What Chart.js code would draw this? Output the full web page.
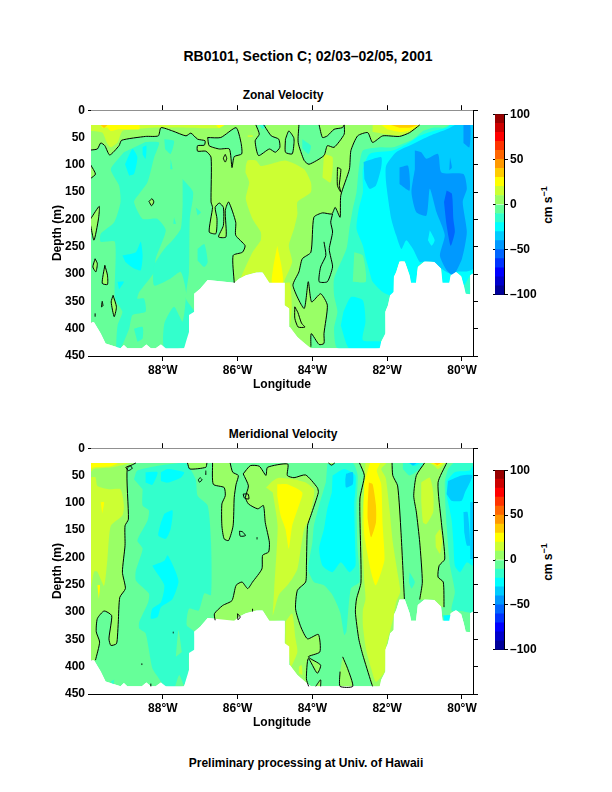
<!DOCTYPE HTML>
<html>
<head>
<meta charset="utf-8">
<script src="https://cdn.jsdelivr.net/npm/chart.js"></script>
<style>
    * { margin: 0; padding: 0; box-sizing: border-box; }
    body { background: #fff; width: 612px; height: 792px; position: relative; overflow: hidden; }
    canvas { position: absolute; }
    .label { position: absolute; font: bold 12px "Liberation Sans", sans-serif; color: #000; white-space: nowrap; transform: translateX(-50%); }
    .unit { position: absolute; font: bold 12px "Liberation Sans", sans-serif; color: #000; white-space: nowrap; transform: translate(-50%, -50%) rotate(-90deg); }
    .unit sup { font-size: 9px; line-height: 0; }
</style>
</head>
<body>
<div class="label" style="left:308px;top:48px;font-size:14px;">RB0101, Section C; 02/03–02/05, 2001</div>
<div class="label" style="left:283px;top:88px;">Zonal Velocity</div>
<div class="label" style="left:283px;top:427px;">Meridional Velocity</div>
<div class="label" style="left:306px;top:756px;">Preliminary processing at Univ. of Hawaii</div>
<div class="unit" style="left:548px;top:205px;">cm s<sup>−1</sup></div>
<div class="unit" style="left:548px;top:562px;">cm s<sup>−1</sup></div>
<canvas id="zonal" width="440" height="296" style="left:48px;top:100px"></canvas>
<canvas id="zonalBar" width="70" height="199" style="left:485px;top:105px"></canvas>
<canvas id="meridional" width="440" height="296" style="left:48px;top:438px"></canvas>
<canvas id="meridionalBar" width="70" height="198" style="left:485px;top:461px"></canvas>
<script>
    // axes
    const lonTicks = [88, 86, 84, 82, 80];
    const depthTicks = [0, 50, 100, 150, 200, 250, 300, 350, 400, 450];
    const barTicks = [-100, -50, 0, 50, 100];
    const barEdges = [-100, -90, -80, -70, -60, -50, -40, -30, -20, -10, 0, 10, 20, 30, 40, 50, 60, 70, 80, 90, 100];

    const section = [89.93,27, 79.7,27, 79.7,299, 79.78,302, 79.78,337, 79.9,336, 79.95,321, 80.02,304, 80.16,296, 80.3,302, 80.34,316, 80.52,316, 80.56,290, 80.74,278, 81.0,277, 81.18,287, 81.23,316, 81.36,316, 81.4,302, 81.53,277, 81.67,277, 81.76,296, 81.82,305, 81.83,333, 81.92,339, 81.98,357, 82.05,369, 82.05,409, 82.16,424, 82.2,436, 84.04,436, 84.2,427, 84.4,415, 84.6,397, 84.62,363, 84.74,357, 84.74,316, 85.15,316, 85.33,297, 85.5,297, 85.78,302, 85.95,308, 86.09,316, 86.8,311, 87.0,327, 87.16,336, 87.16,369, 87.3,375, 87.3,406, 87.38,424, 87.43,436, 87.92,436, 88.05,429, 88.19,436, 88.32,436, 88.44,429, 88.56,436, 88.95,436, 89.04,430, 89.13,436, 89.53,427, 89.66,409, 89.84,388, 89.93,388];
    // no data above the first bin and below the bottom
    const noDataTop = [89.95,0, 79.6,0, 79.6,27, 89.95,27];
    const noDataBottom = [...section.slice(4), 89.95,388, 89.95,450, 79.6,450, 79.6,299];

    // zonal velocity
    const zonalZeroRight = [81.13,27, 81.4,41, 81.67,48, 82.12,47, 82.39,59, 82.52,41, 82.79,47, 82.97,74, 83.01,108, 83.24,156, 83.26,196, 83.39,178, 83.48,190, 83.73,188, 83.96,196, 84.04,260, 84.27,272, 84.36,296, 84.52,321, 84.22,363, 84.11,314, 84.02,351, 83.78,336, 83.6,357, 83.69,409, 83.69,427, 83.82,429, 84.03,409, 84.04,433];
    const zonalZeroBottom = [84.04,436, 84.2,427, 84.4,415, 84.6,397, 84.62,363, 84.74,357, 84.74,316, 85.15,316, 85.33,297, 85.5,297, 85.78,302, 85.95,308, 86.09,316];
    const zonalZeroLeft = [86.09,316, 86.12,266, 85.87,260, 85.8,248, 86.05,229, 86.05,205, 86.24,168, 86.33,184, 86.31,232, 86.51,232, 86.38,211, 86.38,178, 86.49,170, 86.6,178, 86.55,199, 86.58,226, 86.76,223, 86.67,178, 86.71,168, 86.71,86, 86.85,75, 87.07,75, 87.07,65, 86.89,64, 86.87,56, 87.07,53, 87.25,42, 87.38,47, 87.74,38, 88.05,32, 88.12,47, 88.46,48, 89.1,55, 89.17,65, 89.42,82, 89.55,65, 89.66,60, 89.75,71, 89.93,73];
    const zonalPocketA = [86.8,50, 86.45,50, 86.04,32, 85.91,59, 85.89,80, 86.09,85, 86.15,105, 86.22,71, 86.49,71, 86.76,65];
    const zonalPocketB = [85.51,27, 85.42,44, 85.53,56, 85.44,83, 85.15,71, 84.99,77, 84.87,68, 84.9,53, 85.1,47, 85.27,30, 85.3,27];
    const zonalPocketC = [84.72,53, 84.63,38, 84.5,50, 84.49,59, 84.54,80, 84.72,77];
    const zonalPocketD = [84.36,27, 84.38,59, 84.22,92, 84.09,99, 83.69,83, 83.6,65, 83.42,68, 83.15,44, 83.15,27];
    const zonalIslandE = [83.82,27, 83.73,50, 83.6,47, 83.42,35, 83.2,32, 83.15,27];
    const zonalEdgeA = [89.93,100, 89.8,117, 89.93,125];
    const zonalEdgeB = [89.93,199, 89.7,176, 89.72,199, 89.84,238, 89.93,211];
    const zonalLoopA = [89.81,272, 89.75,281, 89.79,296, 89.87,287];
    const zonalLoopB = [89.55,284, 89.48,302, 89.48,319, 89.62,317];
    const zonalLoopC = [89.62,350, 89.6,358, 89.64,360];
    const zonalLoopD = [89.33,339, 89.24,360, 89.3,378, 89.38,351];
    const zonalLoopE = [88.37,167, 88.29,162, 88.24,168, 88.3,175];
    const zonalLevels = [-10, -20, -20, -20, -20, -20, -20, -20, -20, -30, -30, -30, -30, -20, -10, -30, -30, -40, -30, -40, -50, -50, -50, -50, -60, 0, -10, -10, -10, -10, 0, -20, -20, 0, 0, 0, 0, 0, 0, 0, 10, 20, 10, 10, 20, 30, 20, 10, 10, 20, 30, 10];
    const zonalShapes = [
        section,
        [88.46,58, 88.1,59, 88.23,86, 88.41,132, 88.63,153, 88.77,168, 88.54,199, 88.14,199, 87.92,220, 88.19,272, 88.23,296, 88.63,333, 88.68,345, 88.5,345, 88.46,369, 88.81,375, 88.9,400, 89.13,436, 89.24,436, 89.21,394, 89.08,369, 89.28,345, 89.28,241, 89.66,241, 89.66,226, 89.3,205, 89.13,168, 89.17,138, 89.39,108, 89.04,77],
        [87.47,126, 87.19,150, 87.28,199, 87.3,296, 87.38,345, 87.16,369, 87.34,430, 87.46,436, 87.96,436, 87.96,391, 87.7,360, 87.47,387, 87.38,333, 87.52,296, 87.79,308, 88.23,321, 88.23,284, 87.96,254, 87.74,238, 87.52,217, 87.47,175],
        [88.77,400, 88.54,397, 88.54,418, 88.68,424],
        [87.12,178, 86.98,187, 87.07,193],
        [87.7,196, 87.65,208, 87.72,208],
        [87.96,53, 87.7,56, 87.79,80, 87.94,71],
        [87.07,254, 86.89,245, 86.8,278, 86.89,287, 87.07,275],
        [87.79,89, 87.74,108, 87.8,108],
        [89.01,99, 88.81,71, 88.68,86, 88.77,117, 88.9,120],
        [88.54,68, 88.44,65, 88.46,89, 88.54,81],
        [89.08,266, 88.72,260, 88.59,241, 88.54,266, 88.59,293, 88.77,290, 89.0,278],
        [89.21,314, 89.04,314, 89.17,328],
        [80.32,27, 79.7,27, 79.7,299, 79.78,302, 79.78,337, 79.9,336, 79.95,321, 80.02,304, 80.16,296, 80.3,302, 80.34,316, 80.52,316, 80.56,290, 80.74,278, 81.0,277, 81.18,287, 81.23,316, 81.36,316, 81.4,302, 81.53,277, 81.67,277, 81.76,296, 81.82,305, 81.83,333, 81.92,339, 81.98,357, 82.05,369, 82.05,409, 82.16,424, 82.2,436, 83.33,436, 83.42,400, 83.33,369, 83.42,339, 83.42,308, 83.09,254, 83.01,217, 82.92,181, 82.82,150, 82.76,108, 82.65,74, 82.21,68, 81.85,68, 81.31,53, 81.04,38, 80.77,32, 80.5,32],
        [82.88,260, 82.65,266, 82.57,314, 82.92,314],
        [79.7,27, 79.7,299, 79.78,302, 79.95,321, 80.02,304, 80.16,296, 80.3,302, 80.34,316, 80.52,316, 80.56,290, 80.74,278, 81.0,277, 81.18,287, 81.23,316, 81.36,316, 81.4,302, 81.53,277, 81.67,277, 81.76,296, 81.82,305, 81.83,333, 81.92,339, 82.12,333, 82.39,314, 82.47,296, 82.57,272, 82.65,248, 82.82,217, 82.76,181, 82.65,150, 82.65,108, 82.47,80, 81.85,74, 81.4,59, 81.13,47, 80.77,38, 80.41,32, 80.32,27],
        [83.17,369, 82.97,342, 82.65,348, 82.58,387, 82.65,421, 82.16,424, 82.2,436, 83.01,436, 83.24,394],
        [79.7,27, 79.7,290, 79.85,295, 80.16,296, 80.3,300, 80.56,290, 80.74,278, 81.0,277, 81.13,278, 81.31,254, 81.49,238, 81.62,254, 81.76,229, 81.89,199, 82.03,132, 82.03,102, 81.76,77, 81.31,62, 80.86,47, 80.41,35, 80.19,27],
        [80.86,220, 80.73,238, 80.81,248, 80.91,238],
        [82.63,95, 82.16,86, 82.16,105, 82.3,138, 82.47,144, 82.61,126],
        [79.96,27, 79.78,27, 79.8,68, 79.96,60],
        [81.26,74, 81.09,77, 80.95,89, 80.64,80, 80.55,114, 79.96,117, 79.87,144, 79.98,168, 79.87,223, 80.0,272, 80.23,302, 80.41,293, 80.59,266, 80.46,229, 80.68,187, 80.86,144, 80.95,193, 81.22,187, 81.35,150, 81.26,108],
        [81.67,105, 81.44,102, 81.4,147, 81.67,135],
        [80.32,86, 80.27,105, 80.34,110],
        [80.41,147, 80.27,153, 80.23,199, 80.19,223, 80.3,248, 80.41,211, 80.48,168],
        [89.93,27, 81.13,27, ...zonalZeroRight, ...zonalZeroBottom, ...zonalZeroLeft],
        zonalPocketA,
        zonalPocketB,
        zonalPocketC,
        zonalPocketD,
        zonalIslandE,
        [84.27,53, 84.04,65, 84.1,80, 84.27,70],
        [85.42,27, 85.24,27, 85.33,35],
        zonalEdgeA,
        zonalEdgeB,
        zonalLoopA,
        zonalLoopB,
        zonalLoopC,
        zonalLoopD,
        zonalLoopE,
        [85.78,102, 85.73,92, 85.51,92, 85.38,102, 85.15,99, 84.72,92, 84.22,108, 84.04,132, 84.04,150, 84.4,168, 84.4,190, 84.49,217, 84.63,248, 84.54,278, 84.76,314, 84.74,316, 85.15,316, 85.33,297, 85.5,297, 85.78,302, 85.91,307, 85.6,260, 85.38,238, 85.38,223, 85.6,199, 85.78,162, 85.69,132, 85.79,114],
        [84.94,248, 84.83,284, 84.79,316, 85.08,316, 85.04,284],
        [83.69,80, 83.46,86, 83.51,132, 83.73,123],
        [89.93,27, 86.36,27, 86.54,33, 87.38,32, 88.28,32, 88.81,35, 89.08,38, 89.21,59, 89.39,68, 89.48,62, 89.62,41, 89.93,38],
        [89.66,27, 88.63,27, 88.63,35, 89.17,35, 89.39,38, 89.48,32, 89.62,32],
        [89.66,27, 89.57,32, 89.48,27],
        [86.58,27, 86.36,27, 86.5,33],
        [84.74,316, 84.6,316, 84.55,360, 84.6,397, 84.62,363, 84.74,357],
        [82.39,27, 81.13,27, 81.4,41, 81.67,46, 82.12,43, 82.39,40],
        [82.15,27, 81.2,27, 81.4,37, 81.67,40, 82.0,35],
        [81.9,27, 81.2,27, 81.4,32, 81.67,32],
        [85.73,46, 85.6,46, 85.6,49, 85.73,49]
    ];
    const zonalOpen = [zonalZeroRight, zonalZeroLeft, zonalPocketB, zonalPocketD, zonalIslandE, zonalEdgeA, zonalEdgeB,
        [83.46,190, 83.51,205, 83.46,223, 83.55,254, 83.51,269, 83.46,287, 83.6,314, 83.82,314, 83.78,287, 83.64,266, 83.69,241],
        [89.81,372, 89.81,378]];
    const zonalLoops = [zonalPocketA, zonalPocketC, zonalLoopA, zonalLoopB, zonalLoopC, zonalLoopD, zonalLoopE,
        [86.33,81, 86.29,88, 86.33,95, 86.38,88],
        [84.47,360, 84.47,381, 84.38,397, 84.2,397, 84.29,390, 84.39,370],
        [83.33,105, 83.24,108, 83.28,138, 83.24,150, 83.33,138]];

    // meridional velocity
    const merLeftLine = [88.72,27, 88.95,37, 88.92,130, 89.01,142, 89.01,178, 89.08,227, 89.0,257, 89.15,273, 89.19,318, 89.21,342, 89.24,358, 89.39,361, 89.44,349, 89.39,324, 89.37,306, 89.57,298, 89.75,312, 89.78,336, 89.69,355, 89.8,388];
    const merTopIsland = [87.34,27, 87.28,38, 86.85,35, 86.82,27];
    const merFinger = [86.67,27, 86.65,66, 86.36,72, 86.33,87, 86.42,102, 86.42,142, 86.36,166, 86.24,169, 86.12,142, 86.09,90, 86.04,66, 85.98,50, 86.13,44, 86.2,27];
    const merCentreTop = [85.85,47, 85.66,32, 85.42,33, 85.24,50, 85.2,35, 84.66,29, 84.67,50, 84.49,54, 84.18,49, 83.87,72, 83.84,81, 84.04,123, 84.13,142, 84.16,215, 84.18,245, 84.4,260, 84.45,294, 84.31,327, 84.13,349, 83.84,341, 83.8,373, 84.11,382, 83.78,397, 83.87,412, 84.11,385, 84.16,422, 84.1,436];
    const merCentreLeft = [86.6,315, 86.62,303, 86.4,288, 86.15,279, 86.04,251, 85.88,245, 85.73,257, 85.6,245, 85.35,221, 85.33,196, 85.17,190, 85.15,172, 85.26,136, 85.31,105, 85.46,111, 85.71,102, 85.79,90, 85.71,69, 85.85,47];
    const merBandLeft = [82.74,27, 82.61,50, 82.73,93, 82.7,245, 82.82,276, 82.85,300, 82.76,349, 82.65,379, 82.43,428, 82.39,436];
    const merBandRight = [81.87,27, 81.85,50, 81.72,69, 81.63,154, 81.54,276];
    const merStripLeft = [81.0,27, 81.22,50, 81.29,87, 81.22,117, 81.13,172, 81.06,245, 81.13,277];
    const merStripRight = [80.41,27, 80.64,63, 80.55,136, 80.46,203, 80.61,215, 80.64,236, 80.5,245, 80.48,291];
    const merBottomIsland = [83.19,382, 83.06,403, 82.92,436, 83.26,436, 83.26,409];
    const merBottomTiny = [83.91,436, 83.78,424, 83.78,436];
    const merTopTiny = [83.57,27, 83.49,31, 83.4,27];
    const reversePairs = flat => flat.slice().reverse().flatMap((v, i, a) => i % 2 ? [] : [a[i + 1], v]);
    const meridionalLevels = [-10, -20, -10, -10, -30, -30, -30, -30, -20, -20, -30, -40, -20, -30, -40, -20, -20, -30, -30, -40, -40, -40, 0, 0, 0, 0, 0, 0, 0, 0, 0, 10, 20, 20, 10, 20, 10, 20, 10, 10, 10, 20, 30, 10, 10, 10, 20, 30, -20];
    const meridionalShapes = [
        section,
        [88.77,57, 88.68,41, 87.92,30, 87.52,27, 87.37,27, 87.12,57, 87.07,87, 86.8,105, 86.71,172, 86.71,269, 86.89,266, 87.04,297, 87.3,294, 87.36,324, 87.16,336, 87.16,373, 87.3,379, 87.31,412, 87.46,436, 87.94,436, 88.14,418, 88.28,403, 88.46,339, 88.63,330, 88.63,318, 88.39,282, 88.37,266, 88.72,242, 88.72,224, 88.54,184, 88.68,169, 88.41,133, 88.37,114, 88.54,105, 88.54,75],
        [87.65,382, 87.58,333, 87.49,373],
        [87.67,436, 87.56,415, 87.43,436],
        [88.46,44, 88.14,44, 88.28,67, 88.46,63],
        [88.05,44, 87.87,38, 87.43,44, 87.52,54, 87.87,63, 88.05,60],
        [87.96,120, 87.74,114, 87.79,148, 87.92,166, 88.12,160, 88.05,136],
        [88.28,215, 87.96,206, 87.87,196, 87.65,227, 87.58,245, 87.74,276, 88.05,291, 88.14,309, 88.32,312, 88.28,294, 88.05,282, 87.96,251, 88.23,221],
        [83.6,29, 82.92,27, 82.79,50, 82.82,105, 82.79,184, 82.74,245, 82.97,257, 83.09,336, 83.15,342, 83.26,300, 83.46,269, 83.69,251, 83.96,245, 84.11,221, 84.0,172, 83.96,142, 83.82,105, 83.64,63],
        [81.58,27, 81.04,27, 81.18,41, 81.4,50, 81.58,38],
        [83.46,50, 83.15,38, 82.85,50, 82.88,105, 82.85,190, 82.85,215, 83.01,227, 83.24,209, 83.46,227, 83.73,215, 83.82,184, 83.69,148, 83.6,111, 83.48,81],
        [83.1,47, 82.92,44, 82.92,66, 83.1,72, 83.12,57],
        [79.7,27, 79.7,300, 80.02,298, 80.28,297, 80.19,263, 80.32,215, 80.41,142, 80.46,63, 80.37,38, 80.23,27],
        [81.44,27, 81.13,27, 81.26,33],
        [81.4,27, 81.22,27, 81.31,32],
        [85.73,50, 85.6,54, 85.67,66],
        [81.4,227, 81.26,245, 81.35,257, 81.42,245],
        [80.5,306, 80.28,306, 80.32,318, 80.48,318],
        [80.41,60, 80.19,44, 79.79,41, 79.7,32, 79.7,215, 79.87,209, 80.05,227, 80.19,215, 80.23,172, 80.28,130, 80.41,87],
        [80.37,60, 80.01,50, 79.72,50, 79.92,81, 80.01,96, 80.28,96, 80.41,84],
        [79.96,117, 79.85,117, 79.78,178, 79.87,178, 79.94,154],
        [79.78,99, 79.7,99, 79.7,203, 79.78,203],
        [89.93,27, ...merLeftLine, 89.93,388],
        merTopIsland,
        merFinger,
        [...merCentreTop, 84.2,427, 84.4,415, 84.6,397, 84.62,363, 84.74,357, 84.74,316, 85.15,316, 85.33,297, 85.5,297, 85.78,302, 85.95,308, 86.09,316, ...merCentreLeft],
        [...merBandLeft, 82.2,436, 82.16,424, 82.05,409, 82.05,369, 81.98,357, 81.92,339, 81.83,333, 81.82,305, 81.76,296, 81.67,277, ...reversePairs(merBandRight)],
        [...merStripLeft, 81.0,277, 80.74,278, 80.56,290, ...reversePairs(merStripRight)],
        merBottomIsland,
        merBottomTiny,
        merTopTiny,
        [89.93,53, 89.8,53, 89.75,69, 89.44,75, 89.13,75, 89.04,105, 89.08,123, 89.39,142, 89.48,203, 89.57,252, 89.75,226, 89.84,226, 89.93,263],
        [89.66,99, 89.57,99, 89.62,120],
        [89.75,251, 89.68,251, 89.71,276],
        [89.93,27, 88.9,27, 89.35,35, 89.84,38, 89.93,44],
        [89.93,27, 89.21,27, 89.39,33, 89.84,35, 89.91,38],
        [85.24,72, 85.06,60, 84.9,54, 84.49,57, 84.18,63, 83.96,75, 83.96,87, 84.09,130, 84.22,148, 84.31,184, 84.4,221, 84.54,239, 84.67,251, 84.9,269, 85.03,300, 85.06,306, 85.02,257, 84.93,142, 85.06,81],
        [84.94,66, 84.67,66, 84.27,81, 84.36,105, 84.54,142, 84.63,184, 84.72,148, 84.85,123, 84.94,87],
        [84.72,318, 84.54,303, 84.45,349, 84.4,373, 84.58,400, 84.63,373, 84.72,361],
        [84.36,400, 84.29,397, 84.27,415, 84.36,412],
        [82.58,27, 82.03,27, 82.16,38, 82.04,54, 81.94,111, 81.85,172, 81.71,233, 81.65,263, 81.76,282, 81.83,309, 81.94,339, 82.03,364, 82.07,409, 82.3,428, 82.43,403, 82.57,367, 82.65,324, 82.65,297, 82.58,276, 82.61,245, 82.67,142, 82.61,69],
        [82.46,27, 82.19,27, 82.28,41, 82.16,66, 82.12,142, 82.07,203, 82.16,227, 82.31,251, 82.43,227, 82.61,160, 82.63,111, 82.61,63],
        [82.49,63, 82.39,66, 82.3,105, 82.3,136, 82.43,163, 82.52,130, 82.52,99],
        [81.09,63, 80.86,54, 80.77,81, 80.77,117, 80.95,139, 81.04,136, 81.09,97],
        [80.71,160, 80.59,149, 80.53,169, 80.59,193, 80.7,181],
        [80.86,27, 80.46,27, 80.64,38, 80.73,33],
        [80.82,27, 80.52,27, 80.64,33],
        [80.75,27, 80.57,27, 80.66,31],
        [89.39,427, 89.3,424, 89.33,436]
    ];
    const meridionalOpen = [merLeftLine, merTopIsland, merFinger, merCentreTop, merCentreLeft, merBandLeft, merBandRight, merStripLeft, merStripRight, merBottomIsland, merBottomTiny, merTopTiny,
        [88.56,394, 88.56,397], [87.72,336, 87.72,339], [86.85,41, 86.85,49], [88.32,431, 88.32,436], [85.6,294, 85.6,299], [85.48,163, 85.48,167]];
    const meridionalLoops = [[88.99,35, 88.87,32, 88.82,37, 88.92,41],
        [87.0,54, 86.95,58, 87.02,62, 87.05,58],
        [85.85,84, 85.72,84, 85.7,93, 85.82,91],
        [85.95,152, 85.87,153, 85.79,160, 85.93,161],
        [86.0,303, 85.93,309, 85.99,314]];

    // 20 bin colour map, lowest bin first
    const palette = ['#000099', '#0000CC', '#0000FF', '#0033FF', '#0066FF', '#0099FF', '#00CCFF', '#00FFFF', '#33FFCC', '#66FF99',
        '#99FF66', '#CCFF33', '#FFFF00', '#FFCC00', '#FF9900', '#FF6600', '#FF3300', '#FF0000', '#CC0000', '#990000'];
    const colorFor = level => palette[(level + 100) / 10];

    const toPoints = flat => {
        const pts = [];
        for (let i = 0; i < flat.length; i += 2) pts.push({x: flat[i], y: flat[i + 1]});
        return pts;
    };
    const tickFont = {family: '"Liberation Sans", sans-serif', size: 12, weight: 'bold'};
    const curve = 0.2;

    function lockSize(size, key) {
        return axis => { axis[key] = size; };
    }

    function drawSection(id, levels, shapes, openLines, loops) {
        const datasets = shapes.map((flat, i) => ({
            data: toPoints(flat), fill: 'shape', backgroundColor: colorFor(levels[i]),
            borderWidth: 0, pointRadius: 0, tension: flat === section ? 0 : curve, order: shapes.length - i + 3
        }));
        [noDataTop, noDataBottom].forEach(flat => {
            datasets.push({data: toPoints(flat), fill: 'shape', backgroundColor: '#fff', borderWidth: 0, pointRadius: 0, tension: 0, order: 1});
        });
        openLines.concat(loops.map(l => [...l, l[0], l[1]])).forEach(flat => {
            datasets.push({data: toPoints(flat), fill: false, borderColor: '#000', borderWidth: 1, pointRadius: 0, tension: curve, order: 0});
        });
        const lonRange = {type: 'linear', reverse: true, min: 79.705, max: 89.92, afterBuildTicks: a => { a.ticks = lonTicks.map(v => ({value: v})); }};
        const depthRange = {type: 'linear', reverse: true, min: 0, max: 450, afterBuildTicks: a => { a.ticks = depthTicks.map(v => ({value: v})); }};
        new Chart(document.getElementById(id), {
            type: 'line',
            data: {datasets: datasets},
            options: {
                responsive: false, animation: false, events: [], devicePixelRatio: 1,
                layout: {padding: 0},
                plugins: {legend: {display: false}, tooltip: {enabled: false}},
                scales: {
                    x: {...lonRange, position: 'bottom', afterFit: lockSize(40, 'height'),
                        grid: {drawOnChartArea: false, tickLength: 5, tickColor: '#000'},
                        border: {color: '#000', width: 1},
                        ticks: {color: '#000', font: tickFont, padding: 2, autoSkip: false, maxRotation: 0, callback: v => v + '°W'},
                        title: {display: true, text: 'Longitude', color: '#000', font: tickFont, padding: {top: 0, bottom: 4}}},
                    xTop: {...lonRange, position: 'top', afterFit: lockSize(9, 'height'),
                        grid: {drawOnChartArea: false, tickLength: 5, tickColor: '#000'},
                        border: {color: '#000', width: 1},
                        ticks: {display: false}},
                    y: {...depthRange, position: 'left', afterFit: lockSize(43, 'width'),
                        grid: {drawOnChartArea: false, tickLength: 3, tickColor: c => (c.tick && (c.tick.value === 0 || c.tick.value === 450)) ? '#000' : 'rgba(0,0,0,0)'},
                        border: {color: '#000', width: 1},
                        ticks: {color: '#000', font: tickFont, padding: 3, autoSkip: false},
                        title: {display: true, text: 'Depth (m)', color: '#000', font: tickFont, padding: {top: 2, bottom: 0}}},
                    yRight: {...depthRange, position: 'right', afterFit: lockSize(15, 'width'),
                        grid: {drawOnChartArea: false, tickLength: 5, tickColor: '#000'},
                        border: {color: '#000', width: 1},
                        ticks: {display: false}}
                }
            }
        });
    }

    function drawBar(id) {
        const datasets = palette.map((color, i) => ({
            data: [[barEdges[i], barEdges[i + 1]]], backgroundColor: color,
            barPercentage: 1, categoryPercentage: 1, grouped: false, yAxisID: 'y'
        }));
        const range = {type: 'linear', min: -100, max: 100, afterBuildTicks: a => { a.ticks = barTicks.map(v => ({value: v})); }};
        new Chart(document.getElementById(id), {
            type: 'bar',
            data: {labels: ['velocity'], datasets: datasets},
            options: {
                responsive: false, animation: false, events: [], devicePixelRatio: 1,
                layout: {padding: 0},
                plugins: {legend: {display: false}, tooltip: {enabled: false}},
                scales: {
                    x: {position: 'bottom', afterFit: lockSize(8, 'height'), grid: {display: false, drawTicks: false}, border: {color: '#000'}, ticks: {display: false}},
                    xTop: {type: 'category', labels: ['velocity'], position: 'top', afterFit: lockSize(8, 'height'), grid: {display: false, drawTicks: false}, border: {color: '#000'}, ticks: {display: false}},
                    y: {...range, position: 'right', afterFit: lockSize(51, 'width'),
                        grid: {drawOnChartArea: false, tickLength: 4, tickColor: '#000'}, border: {color: '#000'},
                        ticks: {color: '#000', font: tickFont, padding: 2, autoSkip: false, callback: v => String(v).replace('-', '–')}},
                    yLeft: {...range, position: 'left', afterFit: lockSize(10, 'width'),
                        grid: {drawOnChartArea: false, tickLength: 2, tickColor: '#000'}, border: {color: '#000'},
                        ticks: {display: false}}
                }
            }
        });
    }

    drawSection('zonal', zonalLevels, zonalShapes, zonalOpen, zonalLoops);
    drawBar('zonalBar');
    drawSection('meridional', meridionalLevels, meridionalShapes, meridionalOpen, meridionalLoops);
    drawBar('meridionalBar');
</script>
</body>
</html>
